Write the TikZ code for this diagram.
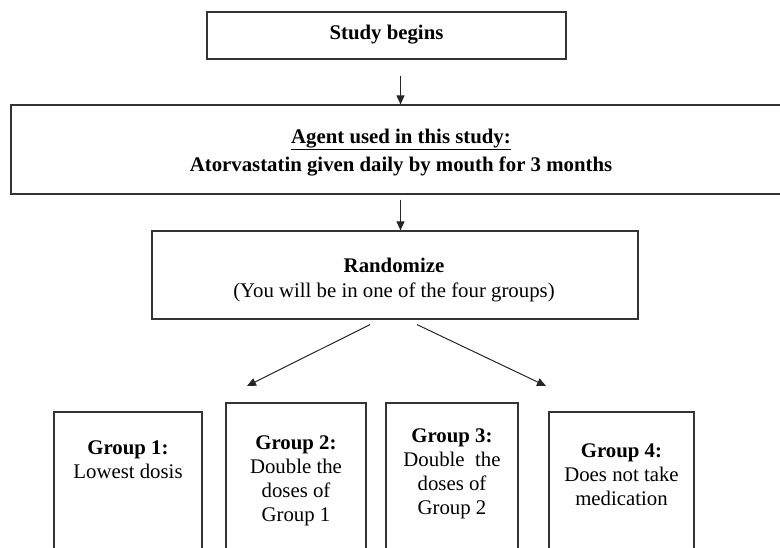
\documentclass[tikz,border=0pt]{standalone}
\usepackage{fontspec}
\setmainfont{Liberation Serif}
\usetikzlibrary{arrows.meta}
\begin{document}
\begin{tikzpicture}[x=1pt,y=-1pt,
  box/.style={draw=black!80, line width=1.2pt, rectangle, inner sep=0pt},
  txt/.style={font=\fontsize{20.8}{25}\selectfont, align=center, inner sep=0pt, anchor=north},
  gtxt/.style={font=\fontsize{20.8}{24}\selectfont, align=center, inner sep=0pt, anchor=north},
  arr/.style={draw=black!85, line width=1pt, -{Triangle[length=9pt,width=8pt]}}]
\useasboundingbox (0,0) rectangle (780,548);
\clip (0,0) rectangle (780,548);
% boxes
\node[box, minimum width=359pt, minimum height=47pt] (study) at (386.5,35.5) {};
\node[box, minimum width=779pt, minimum height=89pt] (agent) at (400.5,149.5) {};
\node[box, minimum width=486pt, minimum height=88pt] (rand) at (395,275) {};
\node[box, minimum width=148pt, minimum height=148pt] (g1) at (128,486) {};
\node[box, minimum width=140pt, minimum height=157pt] (g2) at (296,481.5) {};
\node[box, minimum width=132pt, minimum height=157pt] (g3) at (452,481.5) {};
\node[box, minimum width=145pt, minimum height=148pt] (g4) at (621.5,486) {};
% texts
\node[txt] (tstudy) at (386.5,25) {\textbf{Study begins}};
\node[txt] (tagent) at (401,129) {\textbf{\underline{Agent used in this study:}}\\[3pt]\textbf{Atorvastatin given daily by mouth for 3 months}};
\node[txt] (trand) at (394,258) {\textbf{Randomize}\\(You will be in one of the four groups)};
\node[gtxt] (tg1) at (128,441) {\textbf{Group 1:}\\Lowest dosis};
\node[gtxt] (tg2) at (296,436) {\textbf{Group 2:}\\Double the\\doses of\\Group 1};
\node[gtxt] (tg3) at (452,429) {\textbf{Group 3:}\\Double~ the\\doses of\\Group 2};
\node[gtxt] (tg4) at (621.5,444) {\textbf{Group 4:}\\Does not take\\medication};
% connectors
\coordinate (a1s) at ([yshift=-16pt]study.south -| agent.north);
\draw[arr] (a1s) -- (agent.north);
\coordinate (a2s) at ([yshift=-5pt]agent.south);
\draw[arr] (a2s) -- (agent.south |- rand.north);
\coordinate (l0) at ([xshift=-25pt,yshift=-5pt]rand.south);
\coordinate (r0) at ([xshift=22pt,yshift=-5pt]rand.south);
\coordinate (l1) at (247,386);
\coordinate (r1) at (546,386);
\draw[arr] (l0) -- (l1);
\draw[arr] (r0) -- (r1);
\end{tikzpicture}
\end{document}
